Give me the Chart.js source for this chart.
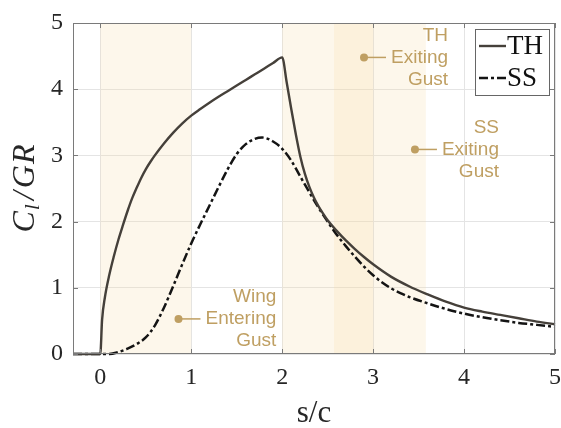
<!DOCTYPE html>
<html>
<head>
<meta charset="utf-8">
<script src="https://cdn.jsdelivr.net/npm/chart.js"></script>
<style>
  html, body { margin: 0; padding: 0; background: #fff; }
  #wrap { width: 561px; height: 428px; }
</style>
</head>
<body>
<div id="wrap"><canvas id="myChart" width="561" height="428"></canvas></div>
<script>
// TH (solid) and SS (dash-dot) lift histories
var thX = [-0.3, 0, 0.02, 0.05, 0.1, 0.15, 0.2, 0.25, 0.3, 0.35, 0.4, 0.45, 0.5, 0.55, 0.6, 0.7, 0.8, 0.9, 1.0,
  1.1, 1.2, 1.3, 1.4, 1.5, 1.6, 1.7, 1.8, 1.9, 2.0, 2.05, 2.1, 2.15, 2.2, 2.25, 2.3,
  2.35, 2.4, 2.45, 2.5, 2.6, 2.7, 2.8, 2.9, 3.0, 3.2, 3.4, 3.6, 3.8, 4.0, 4.2, 4.4, 4.6, 4.8, 5.0];
var thY = [0, 0, 0.52, 0.85, 1.2, 1.48, 1.73, 1.95, 2.16, 2.35, 2.51, 2.66, 2.79, 2.9, 3.0, 3.18, 3.34, 3.48, 3.6,
  3.7, 3.795, 3.885, 3.97, 4.055, 4.14, 4.225, 4.31, 4.395, 4.48, 4.1, 3.7, 3.32, 2.98, 2.72, 2.52,
  2.36, 2.23, 2.12, 2.02, 1.86, 1.715, 1.585, 1.465, 1.355, 1.165, 1.02, 0.9, 0.79, 0.7, 0.64, 0.59, 0.54, 0.49, 0.45];

var ssX = [-0.3, 0, 0.1, 0.2, 0.3, 0.4, 0.5, 0.6, 0.7, 0.8, 0.9, 1.0, 1.1, 1.2, 1.3, 1.4, 1.5,
  1.6, 1.7, 1.78, 1.9, 2.0, 2.1, 2.2, 2.3, 2.4, 2.5, 2.6, 2.7, 2.8, 2.9, 3.0, 3.1, 3.2, 3.3, 3.4,
  3.6, 3.8, 4.0, 4.2, 4.4, 4.6, 4.8, 5.0];
var ssY = [0, 0, 0, 0.03, 0.08, 0.15, 0.25, 0.43, 0.7, 1.02, 1.35, 1.67, 1.96, 2.24, 2.52, 2.79, 3.02,
  3.17, 3.25, 3.27, 3.21, 3.1, 2.92, 2.68, 2.44, 2.21, 2.0, 1.8, 1.63, 1.47, 1.32, 1.19, 1.08, 0.99, 0.92, 0.86,
  0.765, 0.68, 0.61, 0.555, 0.51, 0.47, 0.44, 0.41];

var seriesNames = ['TH', 'SS'];
var xTicks = [0, 1, 2, 3, 4, 5];
var yTicks = [0, 1, 2, 3, 4, 5];

// gust regions (s/c)
var gustStart = [0, 2, 2.57];
var gustEnd = [1, 3, 3.58];

// annotation markers
var noteX = [0.86, 2.9, 3.46];
var noteY = [0.53, 4.48, 3.09];
var noteText = [['Wing', 'Entering', 'Gust'], ['TH', 'Exiting', 'Gust'], ['SS', 'Exiting', 'Gust']];

var serif = '"Liberation Serif", "Times New Roman", serif';
var sans = '"Liberation Sans", Arial, Helvetica, sans-serif';
var gold = '#bf9f62';
var ssDash = [9, 3, 3, 3];

function toPoints(xs, ys) {
  return xs.map(function (x, i) { return { x: x, y: ys[i] }; });
}

var extras = {
  id: 'extras',
  beforeDatasetsDraw: function (chart) {
    var ctx = chart.ctx, xs = chart.scales.x, a = chart.chartArea;
    ctx.save();
    ctx.fillStyle = 'rgba(247, 218, 165, 0.22)';
    for (var i = 0; i < gustStart.length; i++) {
      var x0 = xs.getPixelForValue(gustStart[i]);
      var x1 = xs.getPixelForValue(gustEnd[i]);
      ctx.fillRect(x0, a.top, x1 - x0, a.bottom - a.top);
    }
    ctx.restore();
  },
  afterDraw: function (chart) {
    var ctx = chart.ctx, xs = chart.scales.x, ys = chart.scales.y, a = chart.chartArea;
    ctx.save();

    // box and inward ticks
    ctx.strokeStyle = '#7a7a7a';
    ctx.lineWidth = 1;
    ctx.strokeRect(Math.round(a.left) + 0.5, Math.round(a.top) + 0.5,
      Math.round(a.right - a.left) - 1, Math.round(a.bottom - a.top) - 1);
    ctx.beginPath();
    xTicks.forEach(function (v) {
      var px = Math.round(xs.getPixelForValue(v)) + 0.5;
      ctx.moveTo(px, a.bottom); ctx.lineTo(px, a.bottom - 5);
      ctx.moveTo(px, a.top); ctx.lineTo(px, a.top + 5);
    });
    yTicks.forEach(function (v) {
      var py = Math.round(ys.getPixelForValue(v)) + 0.5;
      ctx.moveTo(a.left, py); ctx.lineTo(a.left + 5, py);
      ctx.moveTo(a.right, py); ctx.lineTo(a.right - 5, py);
    });
    ctx.stroke();

    // annotations
    ctx.font = '19px ' + sans;
    ctx.fillStyle = gold;
    ctx.strokeStyle = gold;
    ctx.textBaseline = 'middle';
    for (var i = 0; i < noteX.length; i++) {
      var dx = xs.getPixelForValue(noteX[i]);
      var dy = ys.getPixelForValue(noteY[i]);
      ctx.beginPath();
      ctx.arc(dx, dy, 4, 0, Math.PI * 2);
      ctx.fill();
      ctx.lineWidth = 1.5;
      ctx.beginPath();
      ctx.moveTo(dx, dy); ctx.lineTo(dx + 22, dy);
      ctx.stroke();
      var right = dx + 27 + ctx.measureText(noteText[i][1]).width;
      ctx.textAlign = 'right';
      for (var k = 0; k < 3; k++) {
        ctx.fillText(noteText[i][k], right, dy + (k - 1) * 22);
      }
    }

    // legend
    var lx = 475.5, ly = 29.5;
    ctx.fillStyle = '#fff';
    ctx.fillRect(lx, ly, 74, 66);
    ctx.strokeStyle = '#666';
    ctx.lineWidth = 1;
    ctx.strokeRect(lx, ly, 74, 66);
    ctx.font = '27px ' + serif;
    ctx.textAlign = 'left';
    ctx.textBaseline = 'middle';
    var rows = [46, 78];
    chart.data.datasets.forEach(function (ds, j) {
      ctx.strokeStyle = ds.borderColor;
      ctx.lineWidth = ds.borderWidth;
      ctx.setLineDash(ds.borderDash || []);
      ctx.beginPath();
      ctx.moveTo(479, rows[j]); ctx.lineTo(506, rows[j]);
      ctx.stroke();
      ctx.setLineDash([]);
      ctx.fillStyle = '#111';
      ctx.fillText(ds.label, 507, rows[j] + 1);
    });

    // x title
    ctx.fillStyle = '#262626';
    ctx.font = '31px ' + serif;
    ctx.textAlign = 'center';
    ctx.fillText('s/c', (a.left + a.right) / 2, 414);

    // y title: C_l / GR in italic
    ctx.translate(26, (a.top + a.bottom) / 2);
    ctx.rotate(-Math.PI / 2);
    var parts = [
      { t: 'C', f: 'italic 32px ' + serif, dy: 0, gap: 0 },
      { t: 'l', f: 'italic 22px ' + serif, dy: 7, gap: 1 },
      { t: '/', f: 'italic 32px ' + serif, dy: 0, gap: 4 },
      { t: 'G', f: 'italic 32px ' + serif, dy: 0, gap: 3 },
      { t: 'R', f: 'italic 32px ' + serif, dy: 0, gap: 1 }
    ];
    var total = 0;
    parts.forEach(function (p) { ctx.font = p.f; p.w = ctx.measureText(p.t).width; total += p.w + p.gap; });
    var cx = -total / 2;
    ctx.textAlign = 'left';
    parts.forEach(function (p) {
      cx += p.gap;
      ctx.font = p.f;
      ctx.fillText(p.t, cx, p.dy);
      cx += p.w;
    });
    ctx.restore();
  }
};

var ctx = document.getElementById('myChart').getContext('2d');

var myChart = new Chart(ctx, {
  type: 'line',
  data: {
    datasets: [
      {
        label: seriesNames[0],
        data: toPoints(thX, thY),
        borderColor: '#45403a',
        borderWidth: 2.4,
        cubicInterpolationMode: 'monotone',
        clip: false
      },
      {
        label: seriesNames[1],
        data: toPoints(ssX, ssY),
        borderColor: '#141414',
        borderWidth: 2.5,
        borderDash: ssDash,
        cubicInterpolationMode: 'monotone',
        clip: false
      }
    ]
  },
  options: {
    responsive: false,
    animation: false,
    devicePixelRatio: 1,
    layout: { padding: { top: 23, right: 6, left: 0, bottom: 0 } },
    elements: { point: { radius: 0 } },
    plugins: { legend: { display: false }, tooltip: { enabled: false } },
    scales: {
      x: {
        type: 'linear',
        min: -0.3,
        max: 5,
        afterBuildTicks: function (s) { s.ticks = xTicks.map(function (v) { return { value: v }; }); },
        afterFit: function (s) { s.height = 74; s.paddingLeft = 0; s.paddingRight = 0; },
        grid: { color: '#e4e4e4', drawTicks: false },
        border: { display: false },
        ticks: { font: { family: serif, size: 24 }, color: '#262626', padding: 9, maxRotation: 0 }
      },
      y: {
        min: 0,
        max: 5,
        afterBuildTicks: function (s) { s.ticks = yTicks.map(function (v) { return { value: v }; }); },
        afterFit: function (s) { s.width = 73; s.paddingTop = 0; s.paddingBottom = 0; },
        grid: { color: '#e4e4e4', drawTicks: false },
        border: { display: false },
        ticks: { font: { family: serif, size: 24 }, color: '#262626', padding: 10 }
      }
    }
  },
  plugins: [extras]
});
</script>
</body>
</html>
